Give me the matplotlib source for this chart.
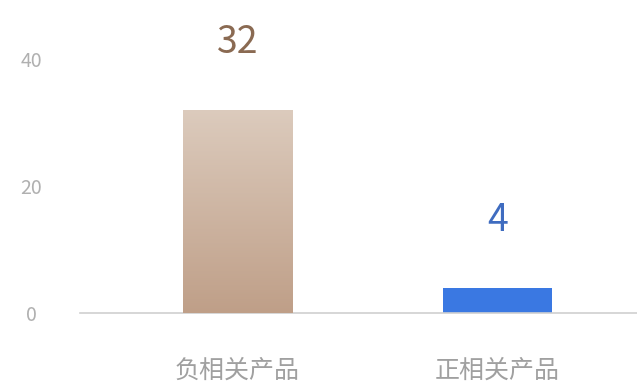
import matplotlib
matplotlib.use('Agg')
import matplotlib.pyplot as plt
import numpy as np
from matplotlib.colors import LinearSegmentedColormap

plt.rcParams['font.family'] = ['Noto Sans CJK SC', 'DejaVu Sans']

# 数据
categories = ['负相关产品', '正相关产品']
counts = [32, 4]
label_colors = ['#8a6a52', '#3f6cc0']
y_ticks = [0, 20, 40]

fig = plt.figure(figsize=(6.37, 3.84), dpi=100)
ax = fig.add_axes([80 / 637, 71 / 384, 557 / 637, 283 / 384])

x = np.arange(len(categories))
bars = ax.bar(x, counts, width=0.42, color=['#cbb3a0', '#3a78e2'], zorder=2)

# 第一根柱子用渐变填充
grad = LinearSegmentedColormap.from_list('tan', ['#bf9f88', '#dccbbd'])
b0 = bars[0]
bx, by = b0.get_x(), b0.get_y()
bw, bh = b0.get_width(), b0.get_height()
img = ax.imshow(np.linspace(0, 1, 256).reshape(-1, 1), cmap=grad, origin='lower',
                extent=[bx, bx + bw, by, by + bh], aspect='auto', zorder=3)
img.set_clip_path(b0)

for xi, v, c in zip(x, counts, label_colors):
    ax.text(xi, v + 10.6, str(v), ha='center', va='center', fontsize=27, color=c)

ax.set_xlim(-0.606, 1.537)
ax.set_ylim(0, 44.6)
ax.set_xticks(x)
ax.set_xticklabels(categories, fontsize=18, color='#a0a0a0')
ax.set_yticks(y_ticks)
ax.set_yticklabels([str(t) for t in y_ticks], fontsize=14, color='#b0b0b0')
for lab in ax.get_yticklabels():
    lab.set_ha('center')
ax.tick_params(axis='y', length=0, pad=35)
ax.tick_params(axis='x', length=0, pad=32)

for s in ['top', 'right', 'left']:
    ax.spines[s].set_visible(False)
ax.spines['bottom'].set_color('#d0d0d0')
ax.spines['bottom'].set_linewidth(1.2)

fig.savefig('out.png', dpi=100)
